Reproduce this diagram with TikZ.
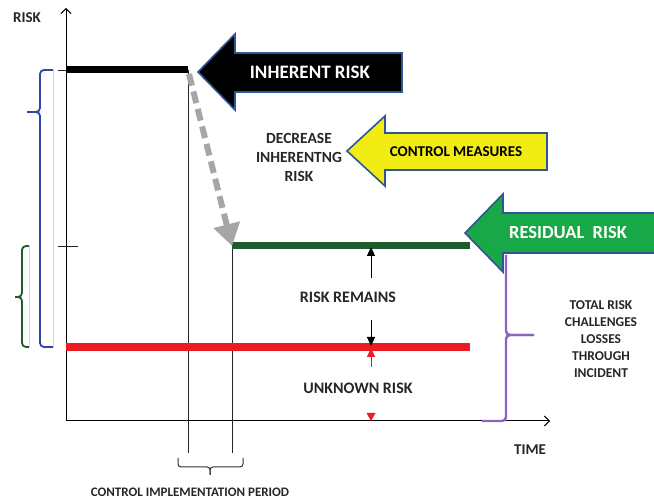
\documentclass[tikz,border=0pt]{standalone}
\usepackage{fontspec}
\setmainfont{Carlito}
\usetikzlibrary{arrows.meta}

\definecolor{edgeblue}{RGB}{47,85,151}
\definecolor{braceblue}{RGB}{45,70,170}
\definecolor{ctrlyellow}{RGB}{240,236,20}
\definecolor{resgreen}{RGB}{24,168,72}
\definecolor{levelgreen}{RGB}{30,92,46}
\definecolor{levelred}{RGB}{236,28,36}
\definecolor{bracepurple}{RGB}{140,100,190}

\newcommand{\fsz}[2]{\bfseries\fontsize{#1}{#2}\selectfont}

\tikzset{
  axis/.style={line width=1pt, -{Straight Barb[length=5pt,width=10pt]}},
  guide/.style={line width=0.9pt, black!85},
  level/.style={line width=7pt},
  bigarrow/.style={draw=edgeblue, line width=1.6pt, line join=miter},
  lbl/.style={font=\fsz{15}{19}, align=center, text=black!85},
  curly/.style={line width=1.8pt, rounded corners=4pt},
  gapmark/.style={line width=1pt, -{Triangle[length=9pt,width=8pt]}},
}

\begin{document}
\begin{tikzpicture}[x=1pt,y=-1pt]
\useasboundingbox (0,0) rectangle (654,502);

% axes
\coordinate (O) at (66,421);
\draw[axis] (O) -- (66,8);
\draw[axis] (O) -- (550,421);
\node[lbl] (risk) at (27,18) {RISK};
\node[lbl] (time) at (530,450) {TIME};

% ticks
\draw[guide] (58,70) -- (66,70);
\draw[guide] (58,246) -- (78,246);

% control period guides
\coordinate (t1) at (188,70);
\coordinate (t2) at (232,246);
\draw[guide] (t1) -- (188,453);
\draw[guide] (t2) -- (232,453);

% risk levels
\draw[level, black] (66,70) -- (t1);
\draw[level, levelgreen] (t2) -- (470,246);
\draw[level, levelred, line width=8pt] (66,347) -- (470,347);

% braces on the left
\draw[black!15, line width=0.8pt] (53,70) -- (53,347);
\draw[black!15, line width=0.8pt] (29,246) -- (29,347);
\draw[curly, braceblue] (53,70) -- (40,70) -- (40,112) -- (27,112);
\draw[curly, braceblue] (27,112) -- (40,112) -- (40,347) -- (53,347);
\draw[curly, levelgreen] (29,246) -- (22,246) -- (22,297) -- (15,297);
\draw[curly, levelgreen] (15,297) -- (22,297) -- (22,347) -- (29,347);

% brace under the time axis
\draw[curly, black!80, line width=1pt, rounded corners=3pt] (178,458) -- (178,467) -- (210,467) -- (210,475);
\draw[curly, black!80, line width=1pt, rounded corners=3pt] (210,475) -- (210,467) -- (243,467) -- (243,458);
\node[lbl, font=\fsz{13}{16}] (period) at (190,492) {CONTROL IMPLEMENTATION PERIOD};

% decrease of the inherent risk
\draw[black!35, line width=6pt, dash pattern=on 12pt off 6pt,
  -{Triangle[length=22pt,width=26pt]}] (189,74) -- (t2);
\node[lbl, font=\fsz{15.5}{19}] (decrease) at (299,157) {DECREASE\\INHERENTNG\\RISK};

% markers between the levels
\coordinate (m1) at (371,278);
\coordinate (m2) at (371,320);
\coordinate (m3) at (371,367);
\coordinate (m4) at (371,413);
\draw[gapmark] (m1) -- (371,247);
\draw[gapmark] (m2) -- (371,346);
\draw[gapmark, levelred] (m3) -- (371,348);
\fill[levelred] (m4) ++(-4.5,0) -- ++(9,0) -- (371,421) -- cycle;
\node[lbl, font=\fsz{16}{19}] (remains) at (348,297) {RISK REMAINS};
\node[lbl, font=\fsz{16}{19}] (unknown) at (358,388) {UNKNOWN RISK};

% total risk brace
\draw[curly, bracepurple, line width=2.4pt] (506,255) -- (506,335) -- (534,335);
\draw[curly, bracepurple, line width=2.4pt] (534,335) -- (506,335) -- (506,421) -- (482,421);
\node[lbl, font=\fsz{13.5}{17}] (total) at (601,339) {TOTAL RISK\\CHALLENGES\\LOSSES\\THROUGH\\INCIDENT};

% block arrows
\filldraw[bigarrow, fill=black] (198,72) -- (235,34) -- (235,53) -- (402,53)
  -- (402,92) -- (235,92) -- (235,110) -- cycle;
\node[lbl, text=white, font=\fsz{19}{22}] (inherent) at (310,72) {INHERENT RISK};

\filldraw[bigarrow, fill=ctrlyellow] (347,151) -- (385,116) -- (385,133) -- (547,133)
  -- (547,170) -- (385,170) -- (385,186) -- cycle;
\node[lbl, text=black, font=\fsz{15}{18}] (control) at (456,152) {CONTROL MEASURES};

\filldraw[bigarrow, fill=resgreen] (465,233) -- (503,194) -- (503,213) -- (660,213)
  -- (660,253) -- (503,253) -- (503,272) -- cycle;
\node[lbl, text=white, font=\fsz{18.5}{22}] (residual) at (568,233) {RESIDUAL\ \ RISK};
\end{tikzpicture}
\end{document}
